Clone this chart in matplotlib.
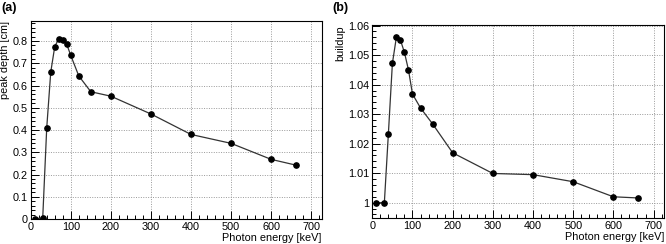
import matplotlib
matplotlib.use("Agg")
import matplotlib.pyplot as plt
from matplotlib.ticker import MultipleLocator

plt.rcParams['font.family'] = ['Liberation Sans', 'DejaVu Sans']

energy = [10, 30, 40, 50, 60, 70, 80, 90, 100, 120, 150, 200, 300, 400, 500, 600, 662]
peak_depth = [0.0, 0.005, 0.41, 0.66, 0.775, 0.81, 0.805, 0.785, 0.735, 0.643, 0.572,
              0.552, 0.472, 0.38, 0.34, 0.268, 0.242]
buildup = [1.0, 1.0, 1.0233, 1.0472, 1.0561, 1.0551, 1.0509, 1.045, 1.0368, 1.0321,
           1.0267, 1.0169, 1.0099, 1.0095, 1.0071, 1.002, 1.0016]

fig = plt.figure(figsize=(6.66, 2.44), dpi=100)
W, H = 666, 244

def axes_px(l, t, r, b):
    return fig.add_axes([l / W, 1 - b / H, (r - l) / W, (b - t) / H])

axa = axes_px(30.7, 21, 321.7, 219)
axb = axes_px(372.3, 25, 664, 218.3)

fs = 7.8
for ax, y, ylim, ymaj, ymin, ylabel, plabel, px in [
        (axa, peak_depth, (0, 0.89), 0.1, 0.02, 'peak depth [cm]', '(a)', 1),
        (axb, buildup, (0.99471, 1.0602), 0.01, 0.002, 'buildup', '(b)', 332)]:
    ax.plot(energy, y, color='#333333', lw=0.9, marker='o', ms=3.8,
            mfc='black', mec='black', zorder=3)
    ax.set_xlim(0, 726)
    ax.set_ylim(*ylim)
    ax.xaxis.set_major_locator(MultipleLocator(100))
    ax.xaxis.set_minor_locator(MultipleLocator(20))
    ax.yaxis.set_major_locator(MultipleLocator(ymaj))
    ax.yaxis.set_minor_locator(MultipleLocator(ymin))
    ax.tick_params(which='both', direction='in', labelsize=fs, width=0.7, colors='black')
    ax.tick_params(which='major', length=6, pad=2)
    ax.tick_params(which='minor', length=3)
    ax.grid(True, which='major', color='#999999', linestyle=(0, (1, 1.5)), lw=0.7)
    for s in ax.spines.values():
        s.set_linewidth(0.8)
    ax.set_xlabel('Photon energy [keV]', fontsize=fs, loc='right', labelpad=1)
    ax.set_ylabel(ylabel, fontsize=fs, loc='top', labelpad=2)
    fig.text(px / W, 1 - 2 / H, plabel, fontsize=9, fontweight='bold',
             va='top', ha='left')

axa.yaxis.set_major_formatter(matplotlib.ticker.FuncFormatter(lambda v, p: f'{v:g}'))
axb.yaxis.set_major_formatter(matplotlib.ticker.FuncFormatter(lambda v, p: f'{round(v, 3):g}'))

fig.savefig('out.png', dpi=100)
